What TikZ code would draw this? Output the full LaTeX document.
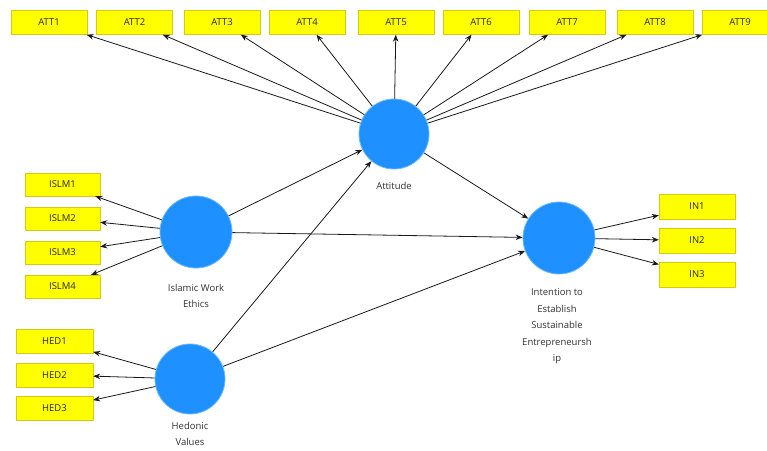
\documentclass[tikz,border=0pt]{standalone}
\usepackage{fontspec}
\setmainfont{Open Sans}
\usetikzlibrary{arrows.meta}
\definecolor{boxfill}{RGB}{255,255,0}
\definecolor{boxline}{RGB}{215,200,20}
\definecolor{lv}{RGB}{30,144,255}
\definecolor{lvline}{RGB}{110,185,255}
\begin{document}
\begin{tikzpicture}[x=1pt,y=-1pt,
  ind/.style={draw=boxline, fill=boxfill, minimum width=76pt, minimum height=24pt, inner sep=0pt, font=\fontsize{9.5}{10}\selectfont, text=black!85},
  lat/.style={circle, fill=lv, draw=lvline, line width=0.8pt, inner sep=0pt},
  lbl/.style={font=\fontsize{9.5}{16.5}\selectfont, align=center, text=black!80},
  arr/.style={-{Stealth[length=7pt,width=5.5pt]}, draw=black!90, line width=0.8pt}]
\useasboundingbox (0,0) rectangle (767,450);
\clip (0,0) rectangle (767,450);
% latent variables
\node[lat, minimum size=70pt] (att) at (394,134) {};
\node[lat, minimum size=72pt] (iwe) at (196,232) {};
\node[lat, minimum size=70pt] (hv) at (190,379) {};
\node[lat, minimum size=72pt] (int) at (559,238) {};
% labels
\node[lbl] (attl) at (394,186) {Attitude};
\node[lbl] (iwel) at (196,296) {Islamic Work\\Ethics};
\node[lbl] (hvl) at (190,434) {Hedonic\\Values};
\node[lbl] (intl) at (557,326.5) {Intention to\\Establish\\Sustainable\\Entrepreneursh\\ip};
% ATT indicators
\node[ind] (a1) at (49,22.5) {ATT1};
\node[ind] (a2) at (134.5,22.5) {ATT2};
\node[ind] (a3) at (222,22.5) {ATT3};
\node[ind] (a4) at (307,22.5) {ATT4};
\node[ind] (a5) at (396,22.5) {ATT5};
\node[ind] (a6) at (481,22.5) {ATT6};
\node[ind] (a7) at (567,22.5) {ATT7};
\node[ind] (a8) at (655,22.5) {ATT8};
\node[ind] (a9) at (740,22.5) {ATT9};
% ISLM indicators
\node[ind, minimum width=75pt, minimum height=23pt] (i1) at (62.5,184.5) {ISLM1};
\node[ind, minimum width=75pt, minimum height=23pt] (i2) at (62.5,218.5) {ISLM2};
\node[ind, minimum width=75pt, minimum height=23pt] (i3) at (62.5,252.5) {ISLM3};
\node[ind, minimum width=75pt, minimum height=23pt] (i4) at (62.5,286.5) {ISLM4};
% HED indicators
\node[ind, minimum width=77pt] (h1) at (54.5,341) {HED1};
\node[ind, minimum width=77pt] (h2) at (54.5,375) {HED2};
\node[ind, minimum width=77pt] (h3) at (54.5,408.5) {HED3};
% IN indicators
\node[ind, minimum height=25pt] (n1) at (697,206.5) {IN1};
\node[ind, minimum height=25pt] (n2) at (697,240.5) {IN2};
\node[ind, minimum height=25pt] (n3) at (697,274.5) {IN3};
% outer model arrows
\foreach \k in {1,...,9} {\draw[arr] (att) -- (a\k);}
\foreach \k in {1,...,4} {\draw[arr] (iwe) -- (i\k);}
\foreach \k in {1,...,3} {\draw[arr] (hv) -- (h\k);}
\foreach \k in {1,...,3} {\draw[arr] (int) -- (n\k);}
% inner model arrows
\draw[arr] (iwe) -- (att);
\draw[arr] (hv) -- (att);
\draw[arr] (att) -- (int);
\draw[arr] (iwe) -- (int);
\draw[arr] (hv) -- (int);
\end{tikzpicture}
\end{document}
